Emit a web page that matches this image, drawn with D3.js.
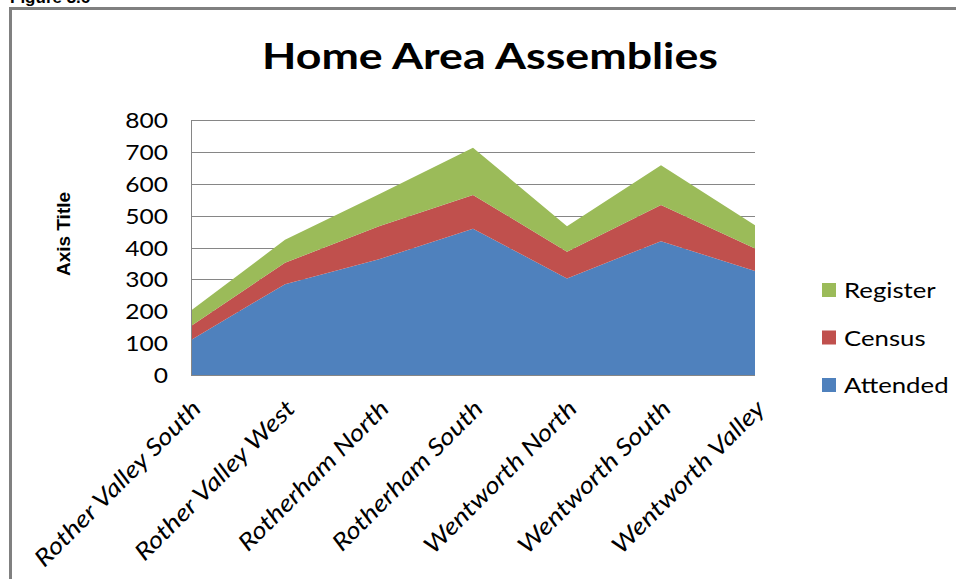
<!DOCTYPE html>
<html>
<head>
<meta charset="utf-8">
<script src="https://cdn.jsdelivr.net/npm/d3@7/dist/d3.min.js"></script>
<style>
  html, body { margin: 0; padding: 0; background: #fff; }
  svg { display: block; }
</style>
</head>
<body>
<svg id="chart" width="956" height="579"></svg>
<script>
// Home area assembly figures per area
const categories = ["Rother Valley South", "Rother Valley West", "Rotherham North",
  "Rotherham South", "Wentworth North", "Wentworth South", "Wentworth Valley"];
const attended = [110, 285, 363, 459, 303, 420, 326];
const census   = [44, 67, 104, 106, 84, 113, 71];
const register = [48, 72, 100, 148, 80, 125, 73];
const seriesNames = ["Attended", "Census", "Register"];
const seriesColors = ["#4F81BD", "#C0504D", "#9BBB59"];
const yTicks = [0, 100, 200, 300, 400, 500, 600, 700, 800];

const rows = categories.map((c, i) => ({
  area: c, Attended: attended[i], Census: census[i], Register: register[i]
}));

const svg = d3.select("#chart");
const font = "Lato, 'Open Sans', sans-serif";
const stretch = 1.17;

// widen a text element horizontally to the chart's text proportions
function widen(sel, factor) {
  sel.each(function () {
    const w = this.getComputedTextLength();
    d3.select(this).attr("textLength", w * factor).attr("lengthAdjust", "spacingAndGlyphs");
  });
}

// figure caption partly cut off at the top, and frame
svg.append("text").attr("x", 10).attr("y", 3)
  .attr("font-family", "'Liberation Sans', Arial, sans-serif")
  .attr("font-weight", "bold").attr("font-size", 17).attr("fill", "#000")
  .text("Figure 3.6");
svg.append("rect").attr("x", 10.5).attr("y", 8.5).attr("width", 960).attr("height", 600)
  .attr("fill", "none").attr("stroke", "#808080").attr("stroke-width", 3);

const plot = { left: 191, right: 755, top: 120, bottom: 375 };

const x = d3.scalePoint().domain(categories).range([plot.left, plot.right]);
const y = d3.scaleLinear().domain([0, 800]).range([plot.bottom, plot.top]);

// gridlines
svg.append("g").selectAll("line").data(yTicks.filter(d => d > 0)).join("line")
  .attr("x1", plot.left).attr("x2", plot.right)
  .attr("y1", d => Math.round(y(d)) + 0.5).attr("y2", d => Math.round(y(d)) + 0.5)
  .attr("stroke", "#868686").attr("stroke-width", 1);

// stacked areas
const stack = d3.stack().keys(seriesNames);
const layers = stack(rows);
const area = d3.area()
  .x(d => x(d.data.area))
  .y0(d => y(d[0]))
  .y1(d => y(d[1]));
svg.append("g").selectAll("path").data(layers).join("path")
  .attr("d", area)
  .attr("fill", (d, i) => seriesColors[i]);

// y axis
const yAxis = svg.append("g").attr("transform", `translate(${plot.left},0)`)
  .call(d3.axisLeft(y).tickValues(yTicks).tickSize(0).tickPadding(23).tickFormat(d3.format("d")));
yAxis.select(".domain").attr("stroke", "#868686");
yAxis.selectAll("text").attr("font-family", font).attr("font-size", 21).attr("fill", "#000")
  .attr("dy", "0.36em").call(widen, stretch);

// x axis
const xAxis = svg.append("g").attr("transform", `translate(0,${plot.bottom})`)
  .call(d3.axisBottom(x).tickSize(0).tickFormat(d => d));
xAxis.select(".domain").attr("stroke", "#868686").attr("d", `M${plot.left},0.5H${plot.right}`);
xAxis.selectAll("text")
  .attr("font-family", font).attr("font-style", "italic").attr("font-size", 23.5).attr("fill", "#000")
  .attr("text-anchor", "end").attr("x", 0).attr("y", 0).attr("dy", 0)
  .attr("transform", "translate(11,35) rotate(-45)")
  .call(widen, 1.18);

// title
svg.append("text").attr("x", 490).attr("y", 69).attr("text-anchor", "middle")
  .attr("font-family", font).attr("font-weight", "bold").attr("font-size", 36)
  .attr("textLength", 456).attr("lengthAdjust", "spacingAndGlyphs")
  .text("Home Area Assemblies");

// axis title
svg.append("text").attr("transform", "translate(70,234) rotate(-90)").attr("text-anchor", "middle")
  .attr("font-family", "'Liberation Sans', Arial, sans-serif").attr("font-weight", "bold")
  .attr("font-size", 19).text("Axis Title");

// legend (top entry is the top layer)
const legendItems = seriesNames.map((n, i) => ({ name: n, color: seriesColors[i] })).reverse();
const legend = svg.append("g").selectAll("g").data(legendItems).join("g")
  .attr("transform", (d, i) => `translate(822,${283 + i * 47.5})`);
legend.append("rect").attr("width", 14).attr("height", 14).attr("fill", d => d.color);
legend.append("text").attr("x", 22).attr("y", 15)
  .attr("font-family", font).attr("font-size", 22).attr("fill", "#000")
  .text(d => d.name).call(widen, stretch);
</script>
</body>
</html>
